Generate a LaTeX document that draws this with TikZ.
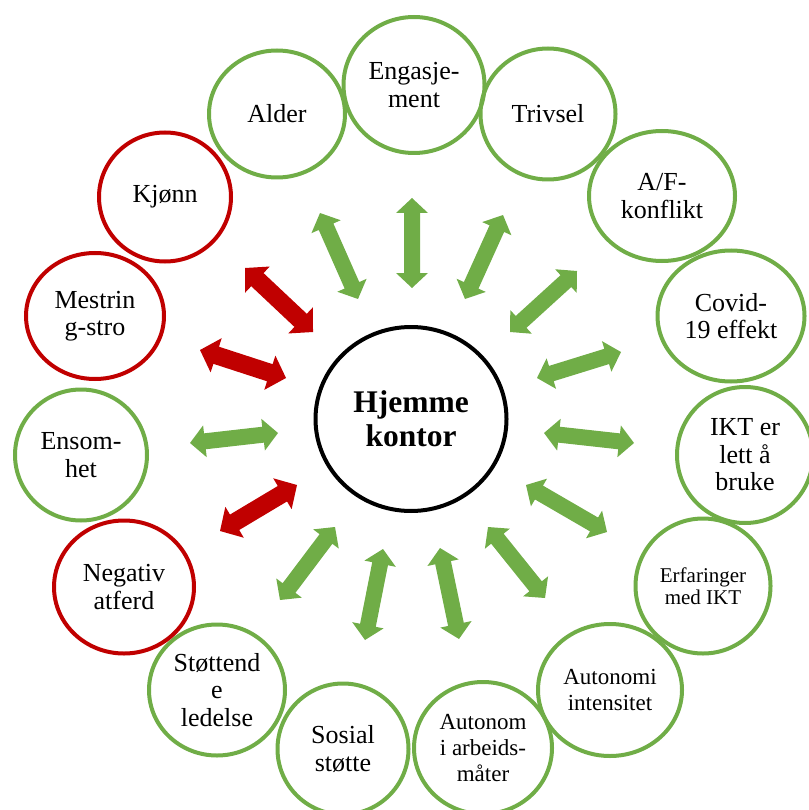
\documentclass[tikz,border=0pt]{standalone}
\usepackage{fontspec}
\setmainfont{Liberation Serif}
\usetikzlibrary{shapes.geometric,calc}
\definecolor{gr}{HTML}{70AD47}
\definecolor{rd}{HTML}{C00000}
\newcommand\blockarrow[6]{% colour, from, to, shaft half width, head half width, head length
  \coordinate (ba1) at ($(#2)!#6!(#3)$);
  \coordinate (ba2) at ($(#3)!#6!(#2)$);
  \fill[#1] (#2) -- ($(ba1)!#5!90:(#3)$) -- ($(ba1)!#4!90:(#3)$) -- ($(ba2)!#4!-90:(#2)$) -- ($(ba2)!#5!-90:(#2)$) -- (#3) -- ($(ba2)!#5!90:(#2)$) -- ($(ba2)!#4!90:(#2)$) -- ($(ba1)!#4!-90:(#3)$) -- ($(ba1)!#5!-90:(#3)$) -- cycle;
}
\newcommand\garrow[2]{\blockarrow{gr}{#1}{#2}{8pt}{16pt}{15pt}}
\newcommand\rarrow[2]{\blockarrow{rd}{#1}{#2}{9pt}{18pt}{17pt}}
\tikzset{
  bub/.style={ellipse, line width=4pt, inner sep=0pt, align=center, text=black},
  gbub/.style={bub, draw=gr},
  rbub/.style={bub, draw=rd},
  sz/.style 2 args={minimum width=#1pt, minimum height=#2pt},
  fbig/.style={font=\fontsize{26}{27.5}\selectfont},
  fmid/.style={font=\fontsize{23}{25.7}\selectfont},
  fsml/.style={font=\fontsize{21}{21.5}\selectfont},
  fctr/.style={font=\fontsize{31.5}{34}\selectfont\bfseries},
}
\begin{document}
\begin{tikzpicture}[x=1pt,y=-1pt]
\useasboundingbox (0,0) rectangle (808,810);
% centre
\node[bub, draw=black, sz={191}{184}, fctr] (hk) at (411,419) {Hjemme\\kontor};
% outer bubbles
\node[gbub, sz={141}{136}, fbig] (eng) at (414,85) {Engasje-\\ment};
\node[gbub, sz={135}{131}, fbig] (tri) at (548,114) {Trivsel};
\node[gbub, sz={146}{130}, fbig] (af) at (662,196) {A/F-\\konflikt};
\node[gbub, sz={147}{131}, fbig] (cov) at (731,316) {Covid-\\19 effekt};
\node[gbub, sz={136}{136}, fbig] (ikt) at (745,455) {IKT er\\lett å\\bruke};
\node[gbub, sz={135}{135}, fsml] (erf) at (703,586) {Erfaringer\\med IKT};
\node[gbub, sz={144}{132}, fmid] (ain) at (610,690) {Autonomi\\intensitet};
\node[gbub, sz={138}{132}, fmid] (aut) at (483,748) {Autonom\\i arbeids-\\måter};
\node[gbub, sz={131}{131}, fbig] (sos) at (343,749) {Sosial\\støtte};
\node[gbub, sz={136}{131}, fbig] (sto) at (217,690) {Støttend\\e\\ledelse};
\node[rbub, sz={140}{133}, fbig] (neg) at (124,587) {Negativ\\atferd};
\node[gbub, sz={132}{131}, fbig] (ens) at (81,455) {Ensom-\\het};
\node[rbub, sz={138}{126}, fbig] (mes) at (95,316) {Mestrin\\g-stro};
\node[rbub, sz={132}{129}, fbig] (kjo) at (165,197) {Kjønn};
\node[gbub, sz={136}{127}, fbig] (ald) at (277,114) {Alder};
% arrow tips
\coordinate (a1a) at (320,213); \coordinate (a1b) at (358,299);
\coordinate (a2a) at (412,198); \coordinate (a2b) at (412,288);
\coordinate (a3a) at (503,215); \coordinate (a3b) at (465,299);
\coordinate (a4a) at (577,271); \coordinate (a4b) at (510,332);
\coordinate (a5a) at (621,352); \coordinate (a5b) at (537,378);
\coordinate (a6a) at (634,443); \coordinate (a6b) at (544,433);
\coordinate (a7a) at (607,532); \coordinate (a7b) at (526,485);
\coordinate (a8a) at (545,598); \coordinate (a8b) at (488,527);
\coordinate (a9a) at (459,639); \coordinate (a9b) at (440,548);
\coordinate (a10a) at (365,640); \coordinate (a10b) at (383,549);
\coordinate (a11a) at (280,600); \coordinate (a11b) at (335,527);
\coordinate (a12a) at (220,531); \coordinate (a12b) at (297,485);
\coordinate (a13a) at (190,443); \coordinate (a13b) at (278,433);
\coordinate (a14a) at (200,350); \coordinate (a14b) at (286,378);
\coordinate (a15a) at (245,268); \coordinate (a15b) at (313,332);
\garrow{a1a}{a1b}
\garrow{a2a}{a2b}
\garrow{a3a}{a3b}
\garrow{a4a}{a4b}
\garrow{a5a}{a5b}
\garrow{a6a}{a6b}
\garrow{a7a}{a7b}
\garrow{a8a}{a8b}
\garrow{a9a}{a9b}
\garrow{a10a}{a10b}
\garrow{a11a}{a11b}
\rarrow{a12a}{a12b}
\garrow{a13a}{a13b}
\rarrow{a14a}{a14b}
\rarrow{a15a}{a15b}
\end{tikzpicture}
\end{document}
